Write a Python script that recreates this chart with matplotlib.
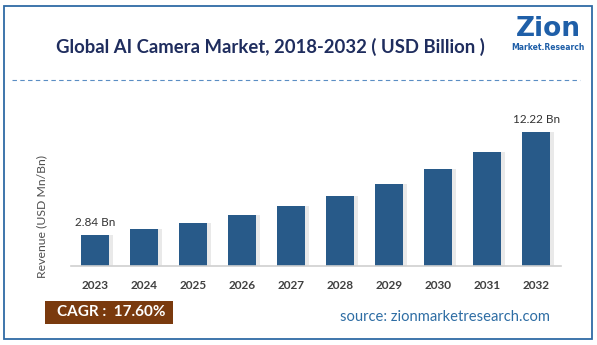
import matplotlib.pyplot as plt
import matplotlib.patches as mpatches
import numpy as np

years = ['2023', '2024', '2025', '2026', '2027', '2028', '2029', '2030', '2031', '2032']
revenue = [2.84, 3.34, 3.93, 4.62, 5.43, 6.39, 7.51, 8.84, 10.39, 12.22]
first_label = '2.84 Bn'
last_label = '12.22 Bn'

W, H = 597, 345
fig = plt.figure(figsize=(W / 100, H / 100), dpi=100)
fig.patch.set_facecolor('white')

# outer border
fig.add_artist(mpatches.Rectangle((4 / W, 1 - 339 / H), 588 / W, 333 / H, transform=fig.transFigure,
                                  fill=False, edgecolor='#2f6aa5', linewidth=1.3))

# title
fig.text(270 / W, 1 - 47 / H, 'Global AI Camera Market, 2018-2032 ( USD Billion )', ha='center', va='center',
         fontsize=13.3, fontweight='bold', color='#1f2d5e', family='Lato')

# dashed separator
fig.add_artist(plt.Line2D([12 / W, 580 / W], [1 - 80 / H, 1 - 80 / H], transform=fig.transFigure,
                          color='#5b8ec4', linestyle=(0, (4, 3)), linewidth=0.8))

# logo
fig.text(548 / W, 1 - 29 / H, 'Zion', ha='center', va='center', fontsize=19, fontweight='heavy',
         color='#1f5fa8', family='DejaVu Sans')
fig.text(548 / W, 1 - 47 / H, 'Market.Research', ha='center', va='center', fontsize=5.5, fontweight='bold',
         color='#1f5fa8', family='DejaVu Sans')

# axes
ax = fig.add_axes([70.7 / W, 1 - 266 / H, 490 / W, (266 - 112.5) / H])
x = np.arange(len(years))
ax.bar(x + 0.07, revenue, width=0.57, color='#d4d4d4', alpha=0.5, zorder=1)
ax.bar(x, revenue, width=0.57, color='#285a89', zorder=2)
ax.set_xlim(-0.5, len(years) - 0.5)
ax.set_ylim(0, 14)
ax.set_xticks(x)
ax.set_xticklabels(years, fontsize=8.5, fontweight='bold', color='#404040', family='Lato')
ax.tick_params(axis='x', length=0, pad=10)
ax.set_yticks([])
for s in ['top', 'right', 'left']:
    ax.spines[s].set_visible(False)
ax.spines['bottom'].set_color('#d0d0d0')
ax.spines['bottom'].set_linewidth(1.2)
ax.set_ylabel('Revenue (USD Mn/Bn)', fontsize=8.8, color='#505050', family='Lato')
ax.yaxis.set_label_coords(-0.048, 0.32)

ax.text(x[0], revenue[0] + 0.6, first_label, ha='center', va='bottom', fontsize=8.5, color='#333333', family='Lato')
ax.text(x[-1], revenue[-1] + 0.6, last_label, ha='center', va='bottom', fontsize=8.5, color='#333333', family='Lato')

# CAGR box
fig.add_artist(mpatches.Rectangle((45 / W, 1 - 324 / H), 128 / W, 23 / H, transform=fig.transFigure,
                                  facecolor='#7a3a0e', edgecolor='none'))
fig.text(111 / W, 1 - 312.5 / H, 'CAGR :  17.60%', ha='center', va='center', fontsize=11,
         fontweight='bold', color='white', family='Lato')

fig.text(445 / W, 1 - 317 / H, 'source: zionmarketresearch.com', ha='center', va='center', fontsize=10.6,
         color='#2e6da4', family='Lato')

plt.savefig('out.png', dpi=100)
